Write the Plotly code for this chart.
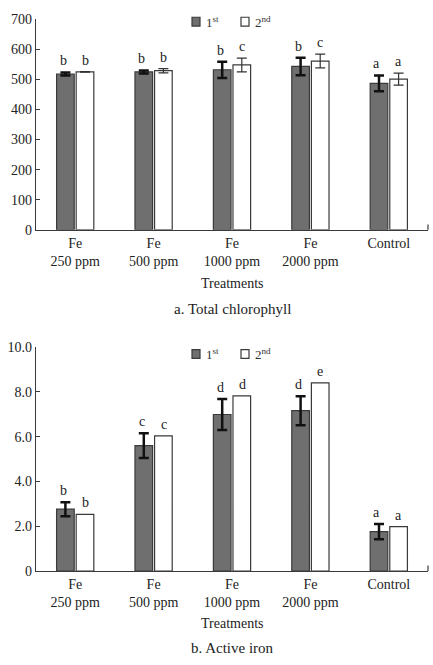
import plotly.graph_objects as go

categories = ["Fe<br>250 ppm", "Fe<br>500 ppm", "Fe<br>1000 ppm", "Fe<br>2000 ppm", "Control"]
series_names = ["1<sup>st</sup>", "2<sup>nd</sup>"]

chl_1st = [518, 525, 532, 543, 487]
chl_1st_err = [5, 5, 27, 29, 26]
chl_2nd = [525, 529, 548, 561, 501]
chl_2nd_err = [1, 7, 23, 23, 20]
chl_letters_1st = ["b", "b", "b", "b", "a"]
chl_letters_2nd = ["b", "b", "c", "c", "a"]

fe_1st = [2.76, 5.60, 6.99, 7.16, 1.76]
fe_1st_err = [0.31, 0.55, 0.69, 0.65, 0.34]
fe_2nd = [2.53, 6.04, 7.82, 8.40, 1.98]
fe_letters_1st = ["b", "c", "d", "d", "a"]
fe_letters_2nd = ["b", "c", "d", "e", "a"]

chl_ticks = [0, 100, 200, 300, 400, 500, 600, 700]
fe_ticks = [0, 2, 4, 6, 8, 10]
fe_ticktext = ["0", "2.0", "4.0", "6.0", "8.0", "10.0"]

FONT = "Liberation Serif"
GREY = "#6f6f6f"
EDGE = "#3a3a3a"
FILLS = [GREY, "white"]

fig = go.Figure()

# Top chart
fig.add_trace(go.Bar(x=categories, y=chl_1st, name=series_names[0], showlegend=False,
                     marker=dict(color=GREY, line=dict(color=EDGE, width=1.2)),
                     error_y=dict(type="data", array=chl_1st_err, color="#111", thickness=2.5, width=5),
                     xaxis="x", yaxis="y", offsetgroup="1"))
fig.add_trace(go.Bar(x=categories, y=chl_2nd, name=series_names[1], showlegend=False,
                     marker=dict(color="white", line=dict(color=EDGE, width=1.2)),
                     error_y=dict(type="data", array=chl_2nd_err, color="#333", thickness=1.2, width=5),
                     xaxis="x", yaxis="y", offsetgroup="2"))
# Bottom chart
fig.add_trace(go.Bar(x=categories, y=fe_1st, name=series_names[0], showlegend=False,
                     marker=dict(color=GREY, line=dict(color=EDGE, width=1.2)),
                     error_y=dict(type="data", array=fe_1st_err, color="#111", thickness=2.5, width=5),
                     xaxis="x2", yaxis="y2", offsetgroup="1"))
fig.add_trace(go.Bar(x=categories, y=fe_2nd, name=series_names[1], showlegend=False,
                     marker=dict(color="white", line=dict(color=EDGE, width=1.2)),
                     xaxis="x2", yaxis="y2", offsetgroup="2"))

annotations = []
def add_letters(vals, errs, letters, shift, xref, yref):
    for c, v, e, l in zip(categories, vals, errs, letters):
        annotations.append(dict(x=c, y=v + e, xref=xref, yref=yref, text=l, showarrow=False,
                                xshift=shift, yshift=2, yanchor="bottom",
                                font=dict(family=FONT, size=14, color="#222")))

add_letters(chl_1st, chl_1st_err, chl_letters_1st, -12, "x", "y")
add_letters(chl_2nd, chl_2nd_err, chl_letters_2nd, 10, "x", "y")
add_letters(fe_1st, fe_1st_err, fe_letters_1st, -12, "x2", "y2")
add_letters(fe_2nd, [0] * 5, fe_letters_2nd, 10, "x2", "y2")

for txt, y in [("Treatments", 1 - 283 / 665), ("a. Total chlorophyll", 1 - 309 / 665),
               ("Treatments", 1 - 631 / 665), ("b. Active iron", 1 - 656 / 665)]:
    annotations.append(dict(x=(36 + 428) / 2 / 433, y=y, xref="paper", yref="paper", text=txt,
                            showarrow=False, yanchor="middle",
                            font=dict(family=FONT, size=15 if txt.startswith(("a.", "b.")) else 14, color="#222")))

axis_common = dict(showline=True, linecolor=EDGE, linewidth=1.2, showgrid=False, zeroline=False,
                   tickfont=dict(family=FONT, size=14, color="#222"))
xdom = [36 / 433, 428 / 433]

shapes = []
for xr, yr in [("x domain", "y domain"), ("x2 domain", "y2 domain")]:
    shapes.append(dict(type="line", xref=xr, yref=yr, x0=1, x1=1, y0=0, y1=0.025,
                       line=dict(color=EDGE, width=1.2)))

# manual legends (square swatch + label) for each panel
for ycenter in [15, 355]:
    for i, (nm, fill) in enumerate(zip(series_names, FILLS)):
        x0 = 192 + 49 * i
        shapes.append(dict(type="rect", xref="paper", yref="paper",
                           x0=x0 / 433, x1=(x0 + 8) / 433,
                           y0=1 - (ycenter + 4.5) / 665, y1=1 - (ycenter - 4.5) / 665,
                           fillcolor=fill, line=dict(color=EDGE, width=1.2)))
        annotations.append(dict(x=(x0 + 12) / 433, y=1 - ycenter / 665, xref="paper", yref="paper",
                                text=nm, showarrow=False, xanchor="left", yanchor="middle",
                                font=dict(family=FONT, size=13, color="#333")))

fig.update_layout(
    width=433, height=665, margin=dict(l=0, r=0, t=0, b=0),
    paper_bgcolor="white", plot_bgcolor="white",
    barmode="group", bargap=0.5, bargroupgap=0.1,
    font=dict(family=FONT, color="#222"),
    showlegend=False,
    xaxis=dict(domain=xdom, anchor="y", ticks="", **axis_common),
    yaxis=dict(domain=[1 - 228 / 665, 1 - 12.5 / 665], anchor="x", range=[0, 700],
               tickvals=chl_ticks, ticks="inside", ticklen=4, tickcolor=EDGE, **axis_common),
    xaxis2=dict(domain=xdom, anchor="y2", ticks="", **axis_common),
    yaxis2=dict(domain=[1 - 577 / 665, 1 - 348 / 665], anchor="x2", range=[0, 10],
                tickvals=fe_ticks, ticktext=fe_ticktext, ticks="inside", ticklen=4, tickcolor=EDGE,
                **axis_common),
    annotations=annotations, shapes=shapes,
)

fig.write_html("out.html")
